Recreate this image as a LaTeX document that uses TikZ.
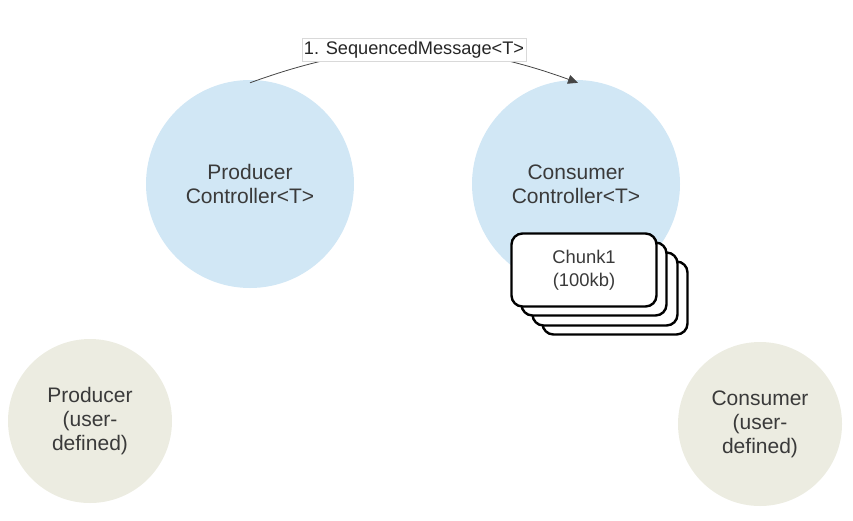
\documentclass[tikz,border=0pt]{standalone}
\usepackage{fontspec}
\setmainfont{Liberation Sans}
\usepackage{xcolor}
\usetikzlibrary{positioning,arrows.meta}
\definecolor{ctrlblue}{HTML}{D1E7F5}
\definecolor{userbeige}{HTML}{ECECE1}
\definecolor{inktext}{HTML}{3A3A3A}
\definecolor{inkline}{HTML}{454545}

\begin{document}
\begin{tikzpicture}[x=1pt, y=-1pt,
    ctrl circle/.style={circle, fill=ctrlblue, minimum size=208pt, inner sep=0pt, align=center,
        text=inktext, font=\fontsize{21}{24}\selectfont},
    user circle/.style={circle, fill=userbeige, minimum size=164pt, inner sep=0pt, align=center,
        text=inktext, font=\fontsize{21}{24}\selectfont},
    chunk box/.style={rectangle, draw=black, line width=2.4pt, rounded corners=11pt, fill=white,
        minimum width=145pt, minimum height=73pt, align=center, text=inktext,
        font=\fontsize{18.4}{23}\selectfont},
    msg label/.style={rectangle, fill=white, draw=black!15, line width=0.6pt, inner xsep=2pt,
        inner ysep=3pt, text=black!85, font=\fontsize{18.2}{20}\selectfont},
    msg arrow/.style={-{Triangle[length=10pt, width=9pt]}, draw=inkline, line width=0.8pt}]

    \useasboundingbox (0,0) rectangle (853,520);

    \node [ctrl circle] (prodctrl) at (250,184) {Producer\\Controller<T>};
    \node [ctrl circle] (consctrl) at (576,184) {Consumer\\Controller<T>};

    \node [user circle] (produser) at (90,421) {Producer\\(user-\\defined)};
    \node [user circle] (consuser) at (760,424) {Consumer\\(user-\\defined)};

    % stacked chunks
    \node [chunk box] (chunk4) at (615,298) {};
    \node [chunk box] (chunk3) at (605,289) {};
    \node [chunk box] (chunk2) at (594,279) {};
    \node [chunk box] (chunk1) at (584,270) {Chunk1\\(100kb)};

    \draw [msg arrow] ([yshift=-3pt]prodctrl.north) to[bend left=20]
        node[msg label] (seqmsg) {1. SequencedMessage<T>} ([xshift=2pt,yshift=-3pt]consctrl.north);

\end{tikzpicture}
\end{document}
